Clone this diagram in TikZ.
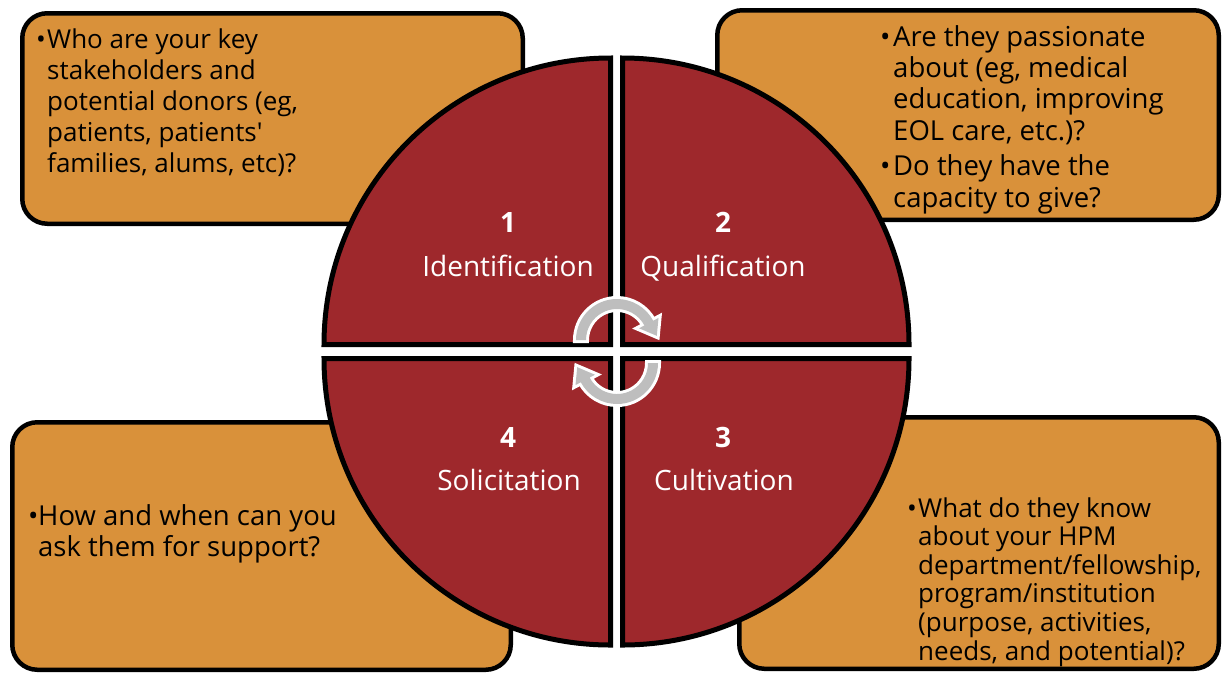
\documentclass[tikz,border=0pt]{standalone}
\usepackage{fontspec}
\setmainfont{Open Sans}
\definecolor{boxfill}{RGB}{217,145,58}
\definecolor{quadfill}{RGB}{158,40,44}
\definecolor{arrowgray}{RGB}{190,190,190}
\newcommand\bulmark[1]{\makebox[#1][l]{•}}
\newcommand\cyclearrow{(180:41) arc[start angle=180,end angle=332,radius=41] -- (332:47) -- (354:40) -- (332:25) -- (332:31) arc[start angle=332,end angle=180,radius=31] -- cycle}
\begin{document}
\begin{tikzpicture}[x=1pt,y=-1pt,
  infobox/.style={draw=black, fill=boxfill, line width=4.5pt, rounded corners=25pt, rectangle, inner sep=0pt},
  quad/.style={draw=black, fill=quadfill, line width=5pt, line join=miter},
  boxtext/.style={anchor=base west, inner sep=0pt, text=black},
  quadnum/.style={anchor=base, inner sep=0pt, text=white, font=\fontsize{28}{30}\selectfont\bfseries},
  quadlabel/.style={anchor=base, inner sep=0pt, text=white, font=\fontsize{28}{30}\selectfont},
  arrowoutline/.style={fill=white, draw=white, line width=6pt, line join=miter},
  arrowbody/.style={fill=arrowgray}]
\useasboundingbox (0,0) rectangle (1222,673);
% info boxes
\node[infobox, minimum width=500.5pt, minimum height=210.5pt] (b1) at (272.5,118.5) {};
\node[infobox, minimum width=501.5pt, minimum height=209.5pt] (b2) at (968,115) {};
\node[infobox, minimum width=498.5pt, minimum height=247.5pt] (b4) at (261.5,546) {};
\node[infobox, minimum width=479.5pt, minimum height=251.5pt] (b3) at (979,543) {};
% quadrants
\draw[quad] (610.5,344.5) -- ++(-286.5,0) arc[start angle=180,end angle=270,radius=286.5] -- cycle;
\draw[quad] (622.5,344.5) -- ++(0,-286.5) arc[start angle=270,end angle=360,radius=286.5] -- cycle;
\draw[quad] (622.5,358.5) -- ++(286.5,0) arc[start angle=0,end angle=90,radius=286.5] -- cycle;
\draw[quad] (610.5,358.5) -- ++(0,286.5) arc[start angle=90,end angle=180,radius=286.5] -- cycle;
% cycle arrows
\begin{scope}[shift={(617,340)}]
  \path[arrowoutline] \cyclearrow;
  \path[arrowbody] \cyclearrow;
\end{scope}
\begin{scope}[shift={(617,363)}, rotate=180]
  \path[arrowoutline] \cyclearrow;
  \path[arrowbody] \cyclearrow;
\end{scope}
% quadrant labels
\node[quadnum] (n1) at (508,232) {1};
\node[quadlabel] (l1) at (508,276) {Identification};
\node[quadnum] (n2) at (723,232) {2};
\node[quadlabel] (l2) at (723,276) {Qualification};
\node[quadnum] (n4) at (508,447) {4};
\node[quadlabel] (l4) at (509,490) {Solicitation};
\node[quadnum] (n3) at (723,447) {3};
\node[quadlabel] (l3) at (724,490) {Cultivation};
% box texts
\node[boxtext, font=\fontsize{26}{31}\selectfont] (t1) at (36,48) {\begin{tabular}[t]{@{}l@{}l@{}}
\bulmark{11pt} & Who are your key\\
 & stakeholders and\\
 & potential donors (eg,\\
 & patients, patients\textquotesingle\\
 & families, alums, etc)?
\end{tabular}};
\node[boxtext, font=\fontsize{27.5}{31.4}\selectfont] (t2) at (880,46) {\begin{tabular}[t]{@{}l@{}l@{}}
\bulmark{13pt} & Are they passionate\\
 & about (eg, medical\\
 & education, improving\\
 & EOL care, etc.)?\\[4pt]
\bulmark{13pt} & Do they have the\\
 & capacity to give?
\end{tabular}};
\node[boxtext, font=\fontsize{27.5}{31}\selectfont] (t4) at (28,525) {\begin{tabular}[t]{@{}l@{}l@{}}
\bulmark{10pt} & How and when can you\\
 & ask them for support?
\end{tabular}};
\node[boxtext, font=\fontsize{26}{28.6}\selectfont] (t3) at (907,517) {\begin{tabular}[t]{@{}l@{}l@{}}
\bulmark{11pt} & What do they know\\
 & about your HPM\\
 & department/fellowship,\\
 & program/institution\\
 & (purpose, activities,\\
 & needs, and potential)?
\end{tabular}};
\end{tikzpicture}
\end{document}
